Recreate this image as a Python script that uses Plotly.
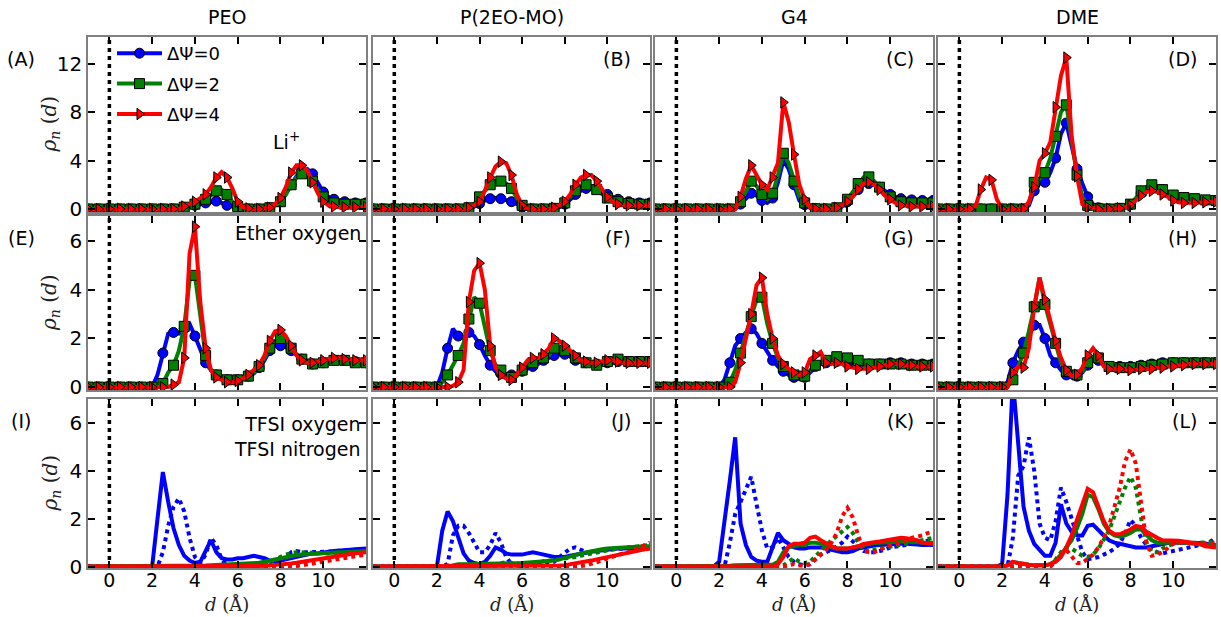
import plotly.graph_objects as go

# ---------------- data ----------------
d = [-1, -0.75, -0.5, -0.25, 0, 0.25, 0.5, 0.75, 1, 1.25, 1.5, 1.75,
     2, 2.25, 2.5, 2.75, 3, 3.25, 3.5, 3.75,
     4, 4.25, 4.5, 4.75, 5, 5.25, 5.5, 5.75,
     6, 6.25, 6.5, 6.75, 7, 7.25, 7.5, 7.75,
     8, 8.25, 8.5, 8.75, 9, 9.25, 9.5, 9.75,
     10, 10.25, 10.5, 10.75, 11, 11.25, 11.5, 11.75, 12]

columns = ["PEO", "P(2EO-MO)", "G4", "DME"]
legend_names = ["ΔΨ=0", "ΔΨ=2", "ΔΨ=4"]
panel_letters = ["(A)", "(B)", "(C)", "(D)", "(E)", "(F)", "(G)", "(H)", "(I)", "(J)", "(K)", "(L)"]
row_yticks = [[0, 4, 8, 12], [0, 2, 4, 6], [0, 2, 4, 6]]
x_ticks = [0, 2, 4, 6, 8, 10]

# Row 1: Li+
A_blue = [0, 0, 0, 0, 0, 0, 0, 0, 0, 0, 0, 0,
          0, 0, 0, 0, 0, 0, 0.1, 0.2,
          0.3, 0.4, 0.5, 0.6, 0.65, 0.5, 0.3, 0.2,
          0.1, 0.05, 0, 0, 0, 0.05, 0.1, 0.3,
          0.6, 1.2, 2.0, 2.7, 3.2, 3.3, 2.9, 2.1,
          1.4, 1.0, 0.8, 0.7, 0.6, 0.55, 0.5, 0.5, 0.5]
A_green = [0, 0, 0, 0, 0, 0, 0, 0, 0, 0, 0, 0,
           0, 0, 0, 0, 0, 0, 0.15, 0.3,
           0.4, 0.6, 0.8, 1.1, 1.5, 1.6, 1.2, 0.6,
           0.2, 0.05, 0, 0, 0, 0.05, 0.1, 0.3,
           0.6, 1.2, 2.0, 2.6, 2.9, 2.8, 2.3, 1.6,
           1.0, 0.7, 0.5, 0.45, 0.4, 0.4, 0.4, 0.4, 0.4]
A_red = [0, 0, 0, 0, 0, 0, 0, 0, 0, 0, 0, 0,
         0, 0, 0, 0, 0, 0, 0.2, 0.4,
         0.6, 0.9, 1.2, 1.8, 2.6, 3.05, 2.6, 1.7,
         0.6, 0.15, 0.05, 0, 0, 0.05, 0.1, 0.4,
         0.9, 1.8, 3.0, 3.6, 3.6, 3.2, 2.2, 1.3,
         0.6, 0.3, 0.2, 0.15, 0.15, 0.15, 0.15, 0.15, 0.15]

B_blue = [0, 0, 0, 0, 0, 0, 0, 0, 0, 0, 0, 0,
          0, 0, 0, 0, 0, 0, 0.05, 0.2,
          0.45, 0.7, 0.85, 0.9, 0.85, 0.75, 0.6, 0.4,
          0.15, 0.02, 0, 0, 0, 0, 0.05, 0.15,
          0.4, 0.8, 1.2, 1.5, 1.7, 1.8, 1.7, 1.5,
          1.2, 1.0, 0.8, 0.7, 0.6, 0.55, 0.5, 0.5, 0.5]
B_green = [0, 0, 0, 0, 0, 0, 0, 0, 0, 0, 0, 0,
           0, 0, 0, 0, 0, 0, 0.1, 0.4,
           1.0, 1.5, 2.0, 2.3, 2.3, 2.1, 1.7, 0.9,
           0.3, 0.05, 0, 0, 0, 0, 0.05, 0.2,
           0.5, 1.0, 1.5, 1.8, 2.0, 1.9, 1.6, 1.2,
           0.9, 0.7, 0.6, 0.5, 0.45, 0.4, 0.4, 0.4, 0.4]
B_red = [0, 0, 0, 0, 0, 0, 0, 0, 0, 0, 0, 0,
         0, 0, 0, 0, 0, 0, 0.1, 0.3,
         0.6, 1.5, 2.6, 3.5, 3.9, 3.8, 2.8, 1.2,
         0.3, 0.05, 0, 0, 0, 0, 0.1, 0.3,
         0.6, 1.2, 2.0, 2.6, 2.8, 2.8, 2.3, 1.6,
         1.0, 0.6, 0.4, 0.35, 0.3, 0.3, 0.3, 0.3, 0.3]

C_blue = [0, 0, 0, 0, 0, 0, 0, 0, 0, 0, 0, 0,
          0, 0, 0, 0, 0.4, 0.9, 1.3, 1.1,
          0.7, 0.5, 0.9, 2.2, 4.0, 3.3, 2.0, 0.7,
          0.35, 0.1, 0.02, 0, 0, 0.02, 0.05, 0.2,
          0.6, 1.1, 1.6, 2.0, 2.1, 2.0, 1.8, 1.5,
          1.2, 1.0, 0.85, 0.8, 0.75, 0.7, 0.7, 0.7, 0.7]
C_green = [0, 0, 0, 0, 0, 0, 0, 0, 0, 0, 0, 0,
           0, 0, 0, 0, 0.6, 1.5, 2.3, 1.9,
           1.2, 0.8, 1.3, 2.8, 4.6, 3.8, 2.3, 1.0,
           0.5, 0.1, 0.02, 0, 0, 0.02, 0.1, 0.3,
           0.8, 1.4, 2.1, 2.6, 2.65, 2.3, 1.8, 1.3,
           1.0, 0.8, 0.6, 0.55, 0.5, 0.5, 0.5, 0.5, 0.5]
C_red = [0, 0, 0, 0, 0, 0, 0, 0, 0, 0, 0, 0,
         0, 0, 0, 0, 1.0, 2.5, 3.6, 2.8,
         2.0, 1.6, 2.6, 3.8, 8.8, 7.2, 4.5, 2.0,
         0.8, 0.15, 0.02, 0, 0, 0.02, 0.1, 0.3,
         0.6, 1.0, 1.6, 2.1, 2.2, 2.0, 1.6, 1.1,
         0.8, 0.5, 0.3, 0.25, 0.2, 0.2, 0.2, 0.2, 0.2]

D_blue = [0, 0, 0, 0, 0, 0, 0, 0, 0, 0, 0, 0,
          0, 0, 0, 0, 0, 0.3, 1.5, 2.1,
          2.2, 3.0, 4.2, 6.2, 7.1, 5.2, 3.3, 2.1,
          1.0, 0.4, 0.1, 0.02, 0, 0, 0.05, 0.15,
          0.35, 0.8, 1.3, 1.7, 1.9, 1.8, 1.6, 1.3,
          1.1, 1.0, 0.9, 0.85, 0.8, 0.75, 0.7, 0.7, 0.7]
D_green = [0, 0, 0, 0, 0, 0, 0, 0, 0, 0, 0, 0,
           0, 0, 0, 0, 0, 0.5, 2.2, 2.5,
           3.0, 4.2, 6.0, 8.0, 8.6, 5.5, 2.8, 1.0,
           0.3, 0.1, 0.02, 0, 0, 0, 0.05, 0.2,
           0.4, 0.9, 1.5, 1.8, 2.0, 1.9, 1.6, 1.3,
           1.15, 1.0, 0.95, 0.9, 0.85, 0.8, 0.75, 0.7, 0.7]
D_red = [0, 0, 0, 0, 0, 0, 0, 0.2, 1.6, 2.6, 2.4, 0.8,
         0, 0, 0, 0, 0, 0.6, 1.8, 4.0,
         4.6, 5.5, 8.4, 11.0, 12.5, 6.0, 2.7, 0.4,
         0.15, 0.05, 0, 0, 0, 0, 0.05, 0.15,
         0.3, 0.7, 1.1, 1.4, 1.5, 1.4, 1.2, 1.0,
         0.7, 0.55, 0.5, 0.5, 0.5, 0.5, 0.55, 0.6, 0.6]

# Row 2: ether oxygen
E_blue = [0, 0, 0, 0, 0, 0, 0, 0, 0, 0, 0, 0,
          0, 0.5, 1.4, 2.2, 2.25, 2.2, 2.4, 2.6,
          2.1, 1.6, 1.0, 0.7, 0.5, 0.4, 0.3, 0.3,
          0.3, 0.35, 0.45, 0.55, 0.8, 1.1, 1.5, 1.7,
          1.7, 1.65, 1.5, 1.3, 1.15, 1.0, 0.95, 0.95,
          1.0, 1.05, 1.1, 1.1, 1.1, 1.05, 1.05, 1.0, 1.0]
E_green = [0, 0, 0, 0, 0, 0, 0, 0, 0, 0, 0, 0,
           0, 0, 0.15, 0.6, 0.9, 1.5, 2.5, 4.4,
           4.6, 2.8, 1.3, 0.7, 0.5, 0.4, 0.3, 0.3,
           0.3, 0.35, 0.45, 0.6, 0.85, 1.2, 1.6, 1.9,
           2.0, 1.9, 1.6, 1.35, 1.15, 1.0, 0.95, 0.95,
           1.0, 1.05, 1.1, 1.1, 1.1, 1.05, 1.0, 1.0, 1.0]
E_red = [0, 0, 0, 0, 0, 0, 0, 0, 0, 0, 0, 0,
         0, 0, 0, 0, 0.1, 0.2, 1.2, 5.5,
         6.6, 3.5, 1.6, 0.7, 0.4, 0.3, 0.2, 0.2,
         0.25, 0.35, 0.5, 0.7, 0.9, 1.3, 1.9, 2.3,
         2.35, 2.1, 1.7, 1.3, 1.1, 1.0, 1.0, 1.05,
         1.1, 1.15, 1.2, 1.2, 1.15, 1.15, 1.1, 1.1, 1.1]

F_blue = [0, 0, 0, 0, 0, 0, 0, 0, 0, 0, 0, 0,
          0, 0.6, 1.6, 2.4, 2.1, 2.0, 2.25, 2.1,
          1.75, 1.3, 0.9, 0.65, 0.55, 0.5, 0.5, 0.55,
          0.65, 0.75, 0.85, 0.95, 1.1, 1.2, 1.3, 1.35,
          1.35, 1.25, 1.1, 1.05, 1.0, 1.0, 0.95, 0.95,
          1.0, 1.0, 1.05, 1.05, 1.05, 1.05, 1.05, 1.05, 1.05]
F_green = [0, 0, 0, 0, 0, 0, 0, 0, 0, 0, 0, 0,
           0, 0.2, 0.5, 0.9, 1.3, 1.8, 2.8, 3.7,
           3.45, 2.5, 1.5, 0.9, 0.7, 0.5, 0.4, 0.45,
           0.7, 0.9, 1.0, 1.1, 1.2, 1.3, 1.6, 1.6,
           1.5, 1.35, 1.2, 1.05, 1.0, 0.95, 0.9, 0.95,
           1.05, 1.15, 1.15, 1.1, 1.05, 1.05, 1.05, 1.05, 1.05]
F_red = [0, 0, 0, 0, 0, 0, 0, 0, 0, 0, 0, 0,
         0, 0, 0, 0.05, 0.2, 0.7, 3.5, 4.8,
         5.1, 4.0, 1.7, 0.8, 0.5, 0.35, 0.3, 0.5,
         0.8, 1.1, 1.2, 1.2, 1.35, 1.6, 2.0, 1.9,
         1.7, 1.5, 1.3, 1.1, 1.05, 1.0, 1.0, 1.05,
         1.1, 1.1, 1.05, 1.0, 1.0, 1.0, 1.0, 1.0, 1.0]

G_blue = [0, 0, 0, 0, 0, 0, 0, 0, 0, 0, 0, 0,
          0, 0.3, 1.0, 1.7, 2.0, 2.25, 2.4, 2.2,
          1.8, 1.45, 1.1, 0.85, 0.65, 0.5, 0.4, 0.35,
          0.4, 0.6, 0.85, 1.0, 1.0, 1.0, 1.05, 1.0,
          0.95, 0.9, 0.9, 0.95, 0.95, 0.95, 0.95, 0.95,
          1.0, 1.0, 1.0, 1.0, 0.95, 0.95, 0.95, 0.95, 0.95]
G_green = [0, 0, 0, 0, 0, 0, 0, 0, 0, 0, 0, 0,
           0, 0, 0.2, 0.7, 1.4, 2.2, 2.9, 3.6,
           3.7, 2.6, 1.8, 1.2, 0.85, 0.65, 0.5, 0.4,
           0.45, 0.7, 0.9, 1.0, 1.1, 1.2, 1.25, 1.25,
           1.2, 1.2, 1.1, 1.0, 0.95, 0.95, 0.95, 0.95,
           0.95, 0.95, 0.95, 0.95, 0.9, 0.9, 0.9, 0.9, 0.9]
G_red = [0, 0, 0, 0, 0, 0, 0, 0, 0, 0, 0, 0,
         0, 0, 0, 0.2, 1.0, 2.0, 3.0, 4.2,
         4.5, 3.0, 2.0, 1.3, 0.95, 0.75, 0.6, 0.5,
         0.6, 1.15, 1.3, 1.45, 1.0, 0.95, 1.0, 0.95,
         0.85, 0.8, 0.75, 0.75, 0.75, 0.8, 0.85, 0.9,
         0.95, 0.95, 0.95, 0.9, 0.9, 0.85, 0.85, 0.85, 0.85]

H_blue = [0, 0, 0, 0, 0, 0, 0, 0, 0, 0, 0, 0,
          0, 0.2, 1.0, 1.5, 1.85, 2.1, 2.55, 2.55,
          2.0, 1.3, 1.0, 0.7, 0.5, 0.4, 0.45, 0.6,
          0.9, 1.2, 1.1, 0.9, 0.85, 0.85, 0.85, 0.85,
          0.85, 0.9, 0.9, 0.95, 0.95, 1.0, 1.0, 1.0,
          1.0, 1.0, 1.0, 1.0, 1.0, 1.0, 1.0, 1.0, 1.0]
H_green = [0, 0, 0, 0, 0, 0, 0, 0, 0, 0, 0, 0,
           0, 0, 0.3, 0.8, 1.4, 2.3, 3.3, 4.5,
           3.4, 2.6, 1.8, 1.0, 0.65, 0.5, 0.5, 0.65,
           1.0, 1.2, 1.2, 0.9, 0.85, 0.8, 0.8, 0.8,
           0.8, 0.8, 0.85, 0.85, 0.9, 0.9, 0.95, 0.95,
           1.0, 1.0, 1.0, 1.0, 1.0, 1.0, 1.0, 1.0, 1.0]
H_red = [0, 0, 0, 0, 0, 0, 0, 0, 0, 0, 0, 0,
         0, 0, 0.6, 0.85, 0.8, 1.6, 3.3, 4.5,
         3.6, 2.7, 1.9, 1.2, 0.7, 0.45, 0.5, 0.8,
         1.3, 1.6, 1.3, 0.85, 0.75, 0.75, 0.75, 0.75,
         0.7, 0.7, 0.75, 0.75, 0.75, 0.8, 0.8, 0.85,
         0.85, 0.9, 0.9, 0.95, 0.95, 0.95, 0.95, 0.95, 0.95]

# Row 3: TFSI oxygen (solid) and TFSI nitrogen (dotted)
I_blue_O = [0, 0, 0, 0, 0, 0, 0, 0, 0, 0, 0, 0,
            0, 2.0, 3.95, 2.7, 1.6, 0.9, 0.45, 0.25,
            0.15, 0.2, 0.7, 1.1, 0.6, 0.35, 0.3, 0.3,
            0.35, 0.35, 0.4, 0.45, 0.4, 0.35, 0.25, 0.2,
            0.25, 0.3, 0.35, 0.4, 0.45, 0.5, 0.55, 0.55,
            0.6, 0.62, 0.65, 0.68, 0.7, 0.7, 0.72, 0.75, 0.75]
I_blue_N = [0, 0, 0, 0, 0, 0, 0, 0, 0, 0, 0, 0,
            0, 0, 0.6, 1.7, 2.5, 2.85, 2.3, 1.2,
            0.4, 0.15, 0.5, 1.2, 0.9, 0.3, 0.05, 0.02,
            0.02, 0.02, 0.02, 0.02, 0.02, 0.02, 0.05, 0.1,
            0.2, 0.35, 0.6, 0.65, 0.6, 0.6, 0.6, 0.6,
            0.6, 0.62, 0.65, 0.65, 0.65, 0.68, 0.7, 0.7, 0.7]
I_green_O = [0, 0, 0, 0, 0, 0, 0, 0, 0, 0, 0, 0,
             0, 0, 0, 0, 0, 0.01, 0.01, 0.02,
             0.02, 0.03, 0.04, 0.05, 0.06, 0.07, 0.08, 0.09,
             0.1, 0.11, 0.12, 0.14, 0.16, 0.2, 0.25, 0.3,
             0.35, 0.4, 0.45, 0.48, 0.5, 0.52, 0.54, 0.55,
             0.56, 0.57, 0.58, 0.6, 0.6, 0.62, 0.63, 0.64, 0.65]
I_green_N = [0, 0, 0, 0, 0, 0, 0, 0, 0, 0, 0, 0,
             0, 0, 0, 0, 0, 0, 0, 0,
             0, 0, 0, 0, 0, 0, 0, 0,
             0, 0, 0.02, 0.05, 0.08, 0.12, 0.2, 0.3,
             0.4, 0.5, 0.55, 0.6, 0.6, 0.58, 0.55, 0.55,
             0.55, 0.55, 0.55, 0.55, 0.55, 0.57, 0.58, 0.6, 0.6]
I_red_O = [0, 0, 0, 0, 0, 0, 0, 0, 0, 0, 0, 0,
           0, 0, 0, 0, 0, 0, 0, 0,
           0, 0, 0, 0, 0, 0, 0, 0,
           0, 0, 0, 0.01, 0.02, 0.03, 0.05, 0.06,
           0.08, 0.1, 0.13, 0.16, 0.2, 0.24, 0.28, 0.32,
           0.35, 0.38, 0.42, 0.46, 0.5, 0.53, 0.56, 0.58, 0.6]
I_red_N = [0, 0, 0, 0, 0, 0, 0, 0, 0, 0, 0, 0,
           0, 0, 0, 0, 0, 0, 0, 0,
           0, 0, 0, 0, 0, 0, 0, 0,
           0, 0, 0, 0, 0, 0, 0, 0,
           0, 0, 0, 0.02, 0.05, 0.08, 0.12, 0.16,
           0.2, 0.24, 0.28, 0.32, 0.36, 0.4, 0.45, 0.5, 0.5]

J_blue_O = [0, 0, 0, 0, 0, 0, 0, 0, 0, 0, 0, 0,
            0, 1.5, 2.3, 1.9, 1.2, 0.55, 0.25, 0.15,
            0.1, 0.2, 0.45, 0.8, 0.7, 0.55, 0.5, 0.5,
            0.5, 0.55, 0.6, 0.55, 0.5, 0.45, 0.4, 0.4,
            0.4, 0.45, 0.5, 0.55, 0.6, 0.62, 0.65, 0.68,
            0.7, 0.72, 0.75, 0.75, 0.75, 0.77, 0.78, 0.8, 0.8]
J_blue_N = [0, 0, 0, 0, 0, 0, 0, 0, 0, 0, 0, 0,
            0, 0, 0.1, 1.3, 1.7, 1.7, 1.4, 1.0,
            0.6, 0.6, 0.9, 1.4, 1.0, 0.4, 0.1, 0.05,
            0.05, 0.05, 0.05, 0.05, 0.08, 0.12, 0.2, 0.4,
            0.6, 0.75, 0.8, 0.7, 0.6, 0.6, 0.65, 0.68,
            0.7, 0.72, 0.73, 0.75, 0.75, 0.78, 0.8, 0.82, 0.85]
J_green_O = [0, 0, 0, 0, 0, 0, 0, 0, 0, 0, 0, 0,
             0, 0, 0, 0.05, 0.1, 0.1, 0.1, 0.1,
             0.1, 0.1, 0.1, 0.1, 0.1, 0.12, 0.13, 0.14,
             0.15, 0.16, 0.17, 0.18, 0.2, 0.22, 0.25, 0.3,
             0.35, 0.4, 0.48, 0.55, 0.6, 0.65, 0.7, 0.72,
             0.75, 0.77, 0.78, 0.8, 0.8, 0.82, 0.83, 0.85, 0.85]
J_green_N = [0, 0, 0, 0, 0, 0, 0, 0, 0, 0, 0, 0,
             0, 0, 0, 0, 0, 0, 0, 0,
             0.02, 0.04, 0.06, 0.1, 0.15, 0.18, 0.15, 0.12,
             0.1, 0.12, 0.15, 0.18, 0.2, 0.22, 0.25, 0.28,
             0.3, 0.35, 0.4, 0.45, 0.5, 0.55, 0.6, 0.65,
             0.7, 0.72, 0.75, 0.78, 0.8, 0.83, 0.85, 0.88, 0.9]
J_red_O = [0, 0, 0, 0, 0, 0, 0, 0, 0, 0, 0, 0,
           0, 0, 0, 0, 0, 0, 0, 0,
           0, 0, 0, 0, 0, 0, 0, 0,
           0, 0, 0, 0, 0.01, 0.02, 0.03, 0.04,
           0.06, 0.09, 0.12, 0.16, 0.2, 0.25, 0.3, 0.35,
           0.4, 0.45, 0.5, 0.55, 0.6, 0.64, 0.68, 0.72, 0.75]
J_red_N = [0, 0, 0, 0, 0, 0, 0, 0, 0, 0, 0, 0,
           0, 0, 0, 0, 0, 0, 0, 0,
           0, 0, 0, 0, 0, 0, 0, 0,
           0, 0, 0, 0, 0, 0, 0, 0,
           0, 0, 0, 0.02, 0.05, 0.1, 0.18, 0.27,
           0.35, 0.42, 0.5, 0.55, 0.6, 0.7, 0.8, 0.9, 1.0]

K_blue_O = [0, 0, 0, 0, 0, 0, 0, 0, 0, 0, 0, 0,
            0.2, 1.8, 3.6, 5.4, 1.8, 0.9, 0.4, 0.25,
            0.2, 0.2, 0.8, 1.4, 1.1, 0.95, 0.8, 0.75,
            0.75, 0.8, 0.8, 0.8, 0.75, 0.7, 0.65, 0.6,
            0.6, 0.65, 0.75, 0.8, 0.85, 0.88, 0.9, 0.92,
            0.95, 0.95, 0.95, 0.95, 0.95, 0.92, 0.9, 0.9, 0.9]
K_blue_N = [0, 0, 0, 0, 0, 0, 0, 0, 0, 0, 0, 0,
            0, 0, 1.0, 2.2, 2.7, 3.2, 3.75, 2.6,
            1.5, 0.75, 0.8, 1.2, 0.8, 0.4, 0.2, 0.1,
            0.05, 0.1, 0.3, 0.5, 0.6, 0.7, 0.85, 1.0,
            1.25, 1.05, 0.8, 0.65, 0.6, 0.6, 0.65, 0.7,
            0.8, 0.82, 0.85, 0.9, 0.95, 1.0, 1.05, 1.08, 1.1]
K_green_O = [0, 0, 0, 0, 0, 0, 0, 0, 0, 0, 0, 0,
             0, 0, 0.03, 0.05, 0.05, 0.05, 0.05, 0.05,
             0.05, 0.05, 0.08, 0.2, 0.6, 0.8, 0.85, 0.9,
             0.9, 1.0, 1.0, 0.95, 0.9, 0.8, 0.75, 0.75,
             0.75, 0.8, 0.85, 0.9, 0.95, 0.98, 1.0, 1.02,
             1.05, 1.05, 1.05, 1.05, 1.05, 1.02, 1.0, 1.0, 1.0]
K_green_N = [0, 0, 0, 0, 0, 0, 0, 0, 0, 0, 0, 0,
             0, 0, 0, 0, 0, 0, 0, 0,
             0, 0, 0, 0, 0.05, 0.2, 0.35, 0.2,
             0.15, 0.2, 0.4, 0.65, 0.9, 1.1, 1.3, 1.5,
             1.65, 1.4, 1.0, 0.65, 0.65, 0.7, 0.75, 0.8,
             0.85, 0.88, 0.9, 0.95, 1.0, 1.05, 1.1, 1.15, 1.2]
K_red_O = [0, 0, 0, 0, 0, 0, 0, 0, 0, 0, 0, 0,
           0, 0, 0, 0, 0, 0, 0, 0,
           0, 0, 0, 0.1, 0.4, 0.85, 0.95, 0.95,
           1.0, 1.2, 1.25, 1.1, 0.95, 0.85, 0.75, 0.75,
           0.75, 0.8, 0.85, 0.95, 1.0, 1.02, 1.05, 1.08,
           1.1, 1.15, 1.2, 1.18, 1.15, 1.1, 1.0, 0.98, 0.95]
K_red_N = [0, 0, 0, 0, 0, 0, 0, 0, 0, 0, 0, 0,
           0, 0, 0, 0, 0, 0, 0, 0,
           0, 0, 0, 0, 0, 0.05, 0.1, 0.05,
           0.02, 0.1, 0.3, 0.5, 0.7, 1.0, 1.4, 2.1,
           2.45, 2.05, 1.3, 0.7, 0.6, 0.6, 0.7, 0.8,
           0.9, 0.95, 1.0, 1.1, 1.2, 1.25, 1.3, 1.4, 1.45]

L_blue_O = [0, 0, 0, 0, 0, 0, 0, 0, 0, 0, 0, 0,
            0.1, 3.0, 7.8, 5.3, 2.5, 1.5, 0.95, 0.7,
            0.45, 0.45, 1.0, 2.6, 1.8, 1.45, 1.3, 1.3,
            1.7, 1.75, 1.5, 1.3, 1.1, 1.0, 0.95, 0.9,
            0.85, 0.8, 0.8, 0.8, 0.85, 0.9, 0.95, 0.98,
            1.0, 1.0, 1.0, 1.0, 1.0, 0.98, 0.95, 0.92, 0.9]
L_blue_N = [0, 0, 0, 0, 0, 0, 0, 0, 0, 0, 0, 0,
            0, 0, 1.2, 3.8, 4.2, 5.4, 4.0, 1.8,
            1.2, 1.1, 1.9, 3.3, 2.7, 2.0, 1.2, 0.6,
            0.3, 0.35, 0.4, 0.5, 0.6, 0.75, 0.95, 1.4,
            1.95, 1.7, 1.2, 0.9, 0.7, 0.6, 0.55, 0.6,
            0.65, 0.7, 0.75, 0.8, 0.85, 0.9, 0.95, 1.05, 1.2]
L_green_O = [0, 0, 0, 0, 0, 0, 0, 0, 0, 0, 0, 0,
             0, 0.05, 0.2, 0.15, 0.1, 0.08, 0.05, 0.05,
             0.05, 0.1, 0.25, 0.5, 0.8, 1.1, 1.6, 2.2,
             3.0, 2.9, 2.4, 1.8, 1.45, 1.3, 1.25, 1.3,
             1.4, 1.55, 1.55, 1.3, 1.1, 1.0, 1.0, 1.0,
             1.05, 1.02, 1.0, 0.98, 0.95, 0.92, 0.9, 0.9, 0.9]
L_green_N = [0, 0, 0, 0, 0, 0, 0, 0, 0, 0, 0, 0,
             0, 0, 0, 0, 0, 0, 0, 0,
             0, 0, 0.3, 0.6, 0.8, 0.75, 0.6, 0.45,
             0.4, 0.5, 0.75, 1.1, 1.5, 2.1, 2.7, 3.3,
             3.75, 3.3, 2.0, 1.0, 0.6, 0.6, 0.75, 0.85,
             0.95, 0.98, 1.0, 1.0, 1.0, 1.0, 1.0, 1.02, 1.05]
L_red_O = [0, 0, 0, 0, 0, 0, 0, 0, 0, 0, 0, 0,
           0, 0.05, 0.2, 0.15, 0.1, 0.08, 0.05, 0.05,
           0.05, 0.1, 0.2, 0.4, 0.8, 1.3, 2.0, 2.6,
           3.25, 3.1, 2.5, 1.9, 1.5, 1.35, 1.35, 1.45,
           1.55, 1.7, 1.65, 1.45, 1.3, 1.2, 1.1, 1.1,
           1.1, 1.08, 1.05, 1.02, 1.0, 0.95, 0.85, 0.82, 0.8]
L_red_N = [0, 0, 0, 0, 0, 0, 0, 0, 0, 0, 0, 0,
           0, 0, 0, 0, 0, 0, 0, 0,
           0, 0, 0.2, 0.5, 0.7, 0.4, 0.15, 0.15,
           0.3, 0.5, 0.8, 1.2, 1.7, 2.5, 3.3, 4.4,
           4.9, 4.3, 2.5, 1.0, 0.45, 0.5, 0.6, 0.8,
           0.95, 1.0, 1.0, 0.98, 0.95, 0.95, 0.95, 0.98, 1.0]

rows12 = [
    [(A_blue, A_green, A_red), (B_blue, B_green, B_red), (C_blue, C_green, C_red), (D_blue, D_green, D_red)],
    [(E_blue, E_green, E_red), (F_blue, F_green, F_red), (G_blue, G_green, G_red), (H_blue, H_green, H_red)],
]
row3 = [
    ((I_blue_O, I_blue_N), (I_green_O, I_green_N), (I_red_O, I_red_N)),
    ((J_blue_O, J_blue_N), (J_green_O, J_green_N), (J_red_O, J_red_N)),
    ((K_blue_O, K_blue_N), (K_green_O, K_green_N), (K_red_O, K_red_N)),
    ((L_blue_O, L_blue_N), (L_green_O, L_green_N), (L_red_O, L_red_N)),
]

# ---------------- styling ----------------
W, H = 1221, 617
col_px = [(88, 366), (373, 650), (655, 933), (938, 1216)]
row_px = [(37, 212), (216, 390), (399, 568)]
yranges = [[-0.25, 14.2], [-0.12, 7.04], [-0.06, 7.0]]
colors = ["#0000ff", "#008000", "#ff0000"]
symbols = ["circle", "square", "triangle-right"]
SANS = "DejaVu Sans"
SERIF = "DejaVu Serif"

fig = go.Figure()
layout = dict(width=W, height=H, margin=dict(l=0, r=0, t=0, b=0, autoexpand=False),
              paper_bgcolor="white", plot_bgcolor="white",
              showlegend=True, shapes=[], annotations=[])


def ax_names(k):
    return ("x" if k == 1 else f"x{k}"), ("y" if k == 1 else f"y{k}")


for r in range(3):
    for c in range(4):
        k = r * 4 + c + 1
        xn, yn = ax_names(k)
        x0, x1 = col_px[c]
        y0, y1 = row_px[r]
        common = dict(ticks="inside", ticklen=7, tickwidth=2, tickcolor="black",
                      showline=True, linecolor="#808080", linewidth=1.5, mirror="ticks",
                      showgrid=False, zeroline=False)
        layout["xaxis" if k == 1 else f"xaxis{k}"] = dict(
            domain=[x0 / W, x1 / W], anchor=yn, range=[-1, 12], tickmode="array",
            tickvals=x_ticks, showticklabels=(r == 2), ticklabelstandoff=-6,
            tickfont=dict(family=SANS, size=19, color="black"), **common)
        layout["yaxis" if k == 1 else f"yaxis{k}"] = dict(
            domain=[1 - y1 / H, 1 - y0 / H], anchor=xn, range=yranges[r], tickmode="array",
            tickvals=row_yticks[r], showticklabels=(c == 0),
            tickfont=dict(family=SANS, size=20, color="black"), **common)
        # dotted reference line at d = 0
        layout["shapes"].append(dict(type="line", xref=xn, yref=f"{yn} domain", x0=0, x1=0, y0=0, y1=1,
                                     line=dict(color="black", width=3.5, dash="4px,4px"), layer="below"))

        if r < 2:
            for s, ys in enumerate(rows12[r][c]):
                fig.add_trace(go.Scatter(x=d, y=ys, xaxis=xn, yaxis=yn, mode="lines",
                                         line=dict(color=colors[s], width=4), showlegend=False,
                                         hoverinfo="skip"))
                fig.add_trace(go.Scatter(x=d[::2], y=ys[::2], xaxis=xn, yaxis=yn, mode="markers",
                                         marker=dict(color=colors[s], symbol=symbols[s], size=10,
                                                     line=dict(color="black", width=1)),
                                         showlegend=False))
        else:
            for s, (yo, yN) in enumerate(row3[c]):
                fig.add_trace(go.Scatter(x=d, y=yo, xaxis=xn, yaxis=yn, mode="lines",
                                         line=dict(color=colors[s], width=4), showlegend=False))
                fig.add_trace(go.Scatter(x=d, y=yN, xaxis=xn, yaxis=yn, mode="lines",
                                         line=dict(color=colors[s], width=4, dash="dot"), showlegend=False))

# legend entries (panel A)
for s in range(3):
    fig.add_trace(go.Scatter(x=[None], y=[None], xaxis="x", yaxis="y", mode="lines+markers",
                             name=legend_names[s], legendgroup=f"g{s}",
                             line=dict(color=colors[s], width=4),
                             marker=dict(color=colors[s], symbol=symbols[s], size=10,
                                         line=dict(color="black", width=1))))

layout["legend"] = dict(x=112 / W, y=1 - 35 / H, xanchor="left", yanchor="top",
                        font=dict(family=SANS, size=18, color="black"),
                        bgcolor="rgba(0,0,0,0)", itemwidth=45,
                        traceorder="grouped", tracegroupgap=4)


def note(text, xp, yp, size=19, family=SANS, color="black", xa="center", ya="middle", **kw):
    return dict(text=text, x=xp / W, y=1 - yp / H, xref="paper", yref="paper", showarrow=False,
                xanchor=xa, yanchor=ya, font=dict(family=family, size=size, color=color), **kw)


ann = layout["annotations"]
# column titles
for c, name in enumerate(columns):
    x0, x1 = col_px[c]
    ann.append(note(name, (x0 + x1) / 2, 17))
# panel letters
for r in range(3):
    for c in range(4):
        k = r * 4 + c + 1
        yc = row_px[r][0] + 22
        if c == 0:
            ann.append(note(panel_letters[k - 1], 21, yc))
        else:
            ann.append(note(panel_letters[k - 1], col_px[c][1] - 17, yc, xa="right"))
# y-axis labels
for r in range(3):
    ann.append(note("<i>ρ</i><sub><i>n</i></sub> (<i>d</i>)", 50, (row_px[r][0] + row_px[r][1]) / 2,
                    size=20, family=SERIF, color="#222222", textangle=-90))
# x-axis labels
for c in range(4):
    x0, x1 = col_px[c]
    ann.append(note("<i>d</i> (Å)", (x0 + x1) / 2, 604, size=18, family=SERIF, color="#222222"))
# species labels
ann.append(note("Li<sup>+</sup>", 286, 141))
ann.append(note("Ether oxygen", 363, 233, xa="right"))
ann.append(note("TFSI oxygen<br>TFSI nitrogen", 363, 436, xa="right", align="right"))

fig.update_layout(**layout)
fig.write_html("out.html", config={"displayModeBar": False},
               post_script="document.body.style.margin='0px';document.body.style.padding='0px';")
